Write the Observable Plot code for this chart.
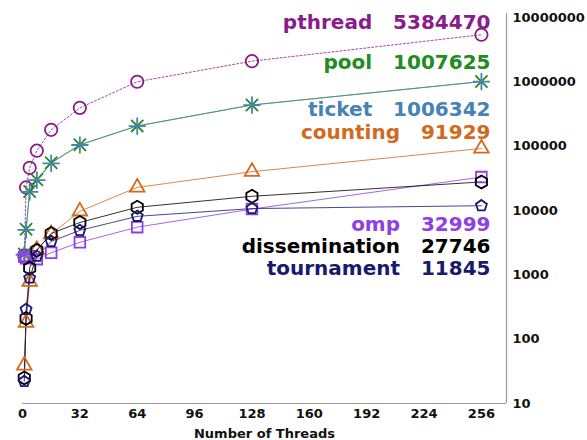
<!DOCTYPE html>
<html>
<head>
<meta charset="utf-8">
<script src="https://cdn.jsdelivr.net/npm/d3@7"></script>
<script src="https://cdn.jsdelivr.net/npm/@observablehq/plot@0.6"></script>
<style>
  body { margin: 0; background: #fff; }
  #chart svg { font-family: "DejaVu Sans", sans-serif; }
</style>
</head>
<body>
<div id="chart"></div>
<script>
// Barrier time (log scale) against number of threads
const threads       = [1, 2, 4, 8, 16, 32, 64, 128, 256];
const pthread       = [2000, 22800, 46000, 85000, 179000, 393000, 1000000, 2090000, 5384470];
const pool          = [2100, 5100, 19700, 30000, 55000, 105000, 206000, 436000, 1007625];
const ticket        = [2050, 5000, 19500, 29500, 54000, 104000, 205000, 434000, 1006342];
const counting      = [39, 180, 780, 2450, 4300, 9700, 22800, 40000, 91929];
const omp           = [1900, 1800, 1950, 1750, 2200, 3200, 5500, 10500, 32999];
const dissemination = [25, 210, 1270, 2400, 4400, 6500, 11200, 16600, 27746];
const tournament    = [22, 290, 890, 1950, 3300, 4900, 8100, 10700, 11845];

const xTicks = [0, 32, 64, 96, 128, 160, 192, 224, 256];
const yTicks = [10, 100, 1000, 10000, 100000, 1000000, 10000000];

// regular pentagon, point up
const pentagon = {
  draw(context, size) {
    const r = Math.sqrt(size / 2.378);
    for (let i = 0; i < 5; ++i) {
      const a = -Math.PI / 2 + i * 2 * Math.PI / 5;
      const px = r * Math.cos(a), py = r * Math.sin(a);
      if (i === 0) context.moveTo(px, py); else context.lineTo(px, py);
    }
    context.closePath();
  }
};

const series = [
  {name: "pthread",       values: pthread,       color: "#8b1a8b", symbol: "circle",   r: 6.2, dash: "2,2", lineOpacity: 0.8},
  {name: "pool",          values: pool,          color: "#228b22", symbol: "times",    r: 5.6, dash: null,  lineOpacity: 0.8},
  {name: "ticket",        values: ticket,        color: "#4682b4", symbol: "plus",     r: 5.6, dash: null,  lineOpacity: 0.6},
  {name: "counting",      values: counting,      color: "#d2691e", symbol: "triangle", r: 5.4, dash: null,  lineOpacity: 0.8},
  {name: "omp",           values: omp,           color: "#8f3fe3", symbol: "square",   r: 6,   dash: null,  lineOpacity: 0.8},
  {name: "dissemination", values: dissemination, color: "#000000", symbol: "hexagon",  r: 5.6, dash: null,  lineOpacity: 0.8},
  {name: "tournament",    values: tournament,    color: "#191970", symbol: pentagon,   r: 5,   dash: null,  lineOpacity: 0.8}
];

// label baseline offsets below the top of the frame
const labelDy = {pthread: 15, pool: 55, ticket: 102, counting: 125, omp: 217, dissemination: 239, tournament: 261};

const rowsFor = s => s.values.map((v, i) => ({name: s.name, threads: threads[i], time: v}));

const marks = [
  Plot.ruleY([10], {stroke: "#9a9a9a", strokeWidth: 1.2}),
  Plot.ruleX([270], {stroke: "#9a9a9a", strokeWidth: 1.2}),
  Plot.axisX({ticks: xTicks, tickSize: 0, tickPadding: 5, label: null, fill: "#111"}),
  Plot.axisY({anchor: "right", ticks: yTicks, tickSize: 0, tickPadding: 6, tickFormat: d3.format("d"), label: null, fill: "#111"}),
  Plot.text(["Number of Threads"], {frameAnchor: "bottom", lineAnchor: "bottom", dy: 34, fill: "#111"})
];

for (const s of series) {
  marks.push(Plot.line(rowsFor(s), {x: "threads", y: "time", stroke: s.color, strokeWidth: 1, strokeOpacity: s.lineOpacity, strokeDasharray: s.dash || undefined}));
}
for (const s of series) {
  marks.push(Plot.dot(rowsFor(s), {x: "threads", y: "time", symbol: s.symbol, r: s.r, stroke: s.color, fill: "none", strokeWidth: 1.8}));
}
for (const s of series) {
  const last = s.values[s.values.length - 1];
  marks.push(Plot.text([`${s.name}\u00a0\u00a0\u00a0${last}`], {
    frameAnchor: "top-right", textAnchor: "end", lineAnchor: "bottom",
    dx: -16, dy: labelDy[s.name], fill: s.color, fontSize: 20, fontWeight: "bold"
  }));
}

const chart = Plot.plot({
  width: 587,
  height: 440,
  marginLeft: 22,
  marginRight: 81,
  marginTop: 13,
  marginBottom: 37,
  style: {fontFamily: "DejaVu Sans, sans-serif", fontSize: "13px", fontWeight: "bold", background: "#fff"},
  x: {domain: [0, 270]},
  y: {type: "log", domain: [10, 11500000]},
  marks
});
document.getElementById("chart").appendChild(chart);
</script>
</body>
</html>
